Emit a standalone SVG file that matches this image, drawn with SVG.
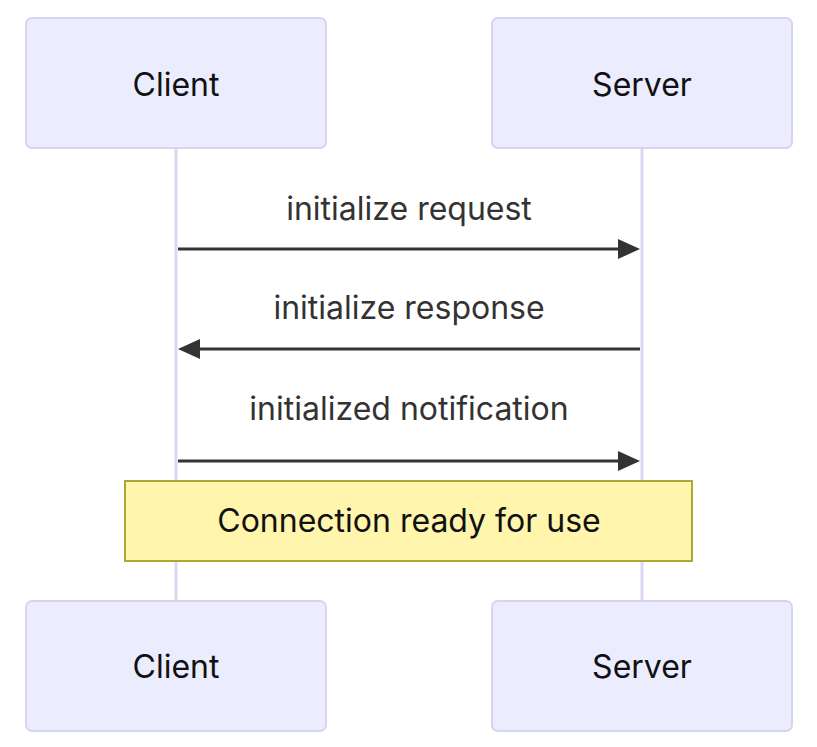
<svg xmlns="http://www.w3.org/2000/svg" width="817" height="747" viewBox="0 0 817 747">
<style>
.actor{fill:#ECECFF;stroke:#d9d3f2;stroke-width:2}
.atext{font-family:Inter,"Noto Sans",sans-serif;font-size:32px;fill:#111;text-anchor:middle}
.life{stroke:#ddd6f3;stroke-width:3}
.msg{stroke:#333;stroke-width:3;fill:none}
.mtext{font-family:Inter,"Noto Sans",sans-serif;font-size:32px;fill:#333;text-anchor:middle}
.note{fill:#fff5ad;stroke:#aaaa33;stroke-width:2}
.ntext{font-family:Inter,"Noto Sans",sans-serif;font-size:32px;fill:#111;text-anchor:middle}
.head{fill:#333}
</style>
<rect width="817" height="747" fill="#fff"/>
<g id="lifelines">
<line class="life" x1="176" y1="148" x2="176" y2="601"/>
<line class="life" x1="642" y1="148" x2="642" y2="601"/>
</g>
<g id="client-top"><rect class="actor" x="26" y="18" width="300" height="130" rx="6"/><text class="atext" x="176" y="96">Client</text></g>
<g id="server-top"><rect class="actor" x="492" y="18" width="300" height="130" rx="6"/><text class="atext" x="642" y="96">Server</text></g>
<g id="client-bottom"><rect class="actor" x="26" y="601" width="300" height="130" rx="6"/><text class="atext" x="176" y="678">Client</text></g>
<g id="server-bottom"><rect class="actor" x="492" y="601" width="300" height="130" rx="6"/><text class="atext" x="642" y="678">Server</text></g>
<g id="connectors">
<line class="msg" x1="178" y1="249" x2="622" y2="249"/>
<polygon class="head" points="618,239 640,249 618,259"/>
<text class="mtext" x="409" y="220">initialize request</text>
<line class="msg" x1="640" y1="349" x2="196" y2="349"/>
<polygon class="head" points="200,339 178,349 200,359"/>
<text class="mtext" x="409" y="319">initialize response</text>
<line class="msg" x1="178" y1="461" x2="622" y2="461"/>
<polygon class="head" points="618,451 640,461 618,471"/>
<text class="mtext" x="409" y="420">initialized notification</text>
</g>
<g id="note"><rect class="note" x="125" y="481" width="567" height="80"/><text class="ntext" x="409" y="532">Connection ready for use</text></g>
</svg>
